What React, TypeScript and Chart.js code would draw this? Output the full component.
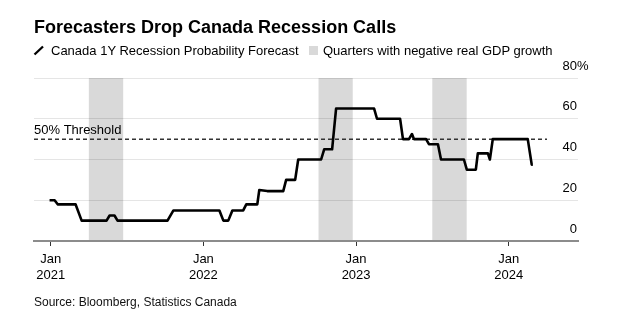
import React, { useEffect, useRef } from 'react';
import { Chart, registerables } from 'chart.js';

Chart.register(...registerables);

const TITLE = 'Forecasters Drop Canada Recession Calls';
const SERIES_LABEL = 'Canada 1Y Recession Probability Forecast';
const BAND_LABEL = 'Quarters with negative real GDP growth';
const SOURCE = 'Source: Bloomberg, Statistics Canada';

// Forecast series: decimal years and percent probability
const forecastDates = [
  2020.993, 2021.026, 2021.046, 2021.163, 2021.203, 2021.366, 2021.386, 2021.418, 2021.438,
  2021.765, 2021.804, 2022.105, 2022.131, 2022.163, 2022.19, 2022.261, 2022.281, 2022.353,
  2022.366, 2022.418, 2022.523, 2022.542, 2022.601, 2022.621, 2022.771, 2022.791, 2022.843,
  2022.869, 2023.118, 2023.137, 2023.288, 2023.307, 2023.346, 2023.366, 2023.379, 2023.458,
  2023.477, 2023.536, 2023.556, 2023.706, 2023.725, 2023.784, 2023.797, 2023.863, 2023.876,
  2023.895, 2024.124, 2024.15, 2024.157,
];
const forecastValues = [
  20, 20, 18, 18, 10, 10, 12.5, 12.5, 10,
  10, 15, 15, 10, 10, 15, 15, 18, 18,
  25, 24.5, 24.5, 30, 30, 40, 40, 45, 45,
  65, 65, 60, 60, 50, 50, 52.5, 50, 50,
  47.5, 47.5, 40, 40, 35, 35, 43, 43, 40,
  50, 50, 37.5, 37.5,
];

// Quarters with negative real GDP growth (shaded)
const recessionStarts = [2021.25, 2022.754, 2023.499];
const recessionEnds = [2021.475, 2022.978, 2023.724];

const yearTicks = [2021, 2022, 2023, 2024];
const tickMonth = 'Jan';
const yTicks = [0, 20, 40, 60, 80];
const thresholdValue = 50;
const thresholdLabel = '50% Threshold';
const thresholdEnd = 2024.25;
const xMin = 2020.891;
const xMax = 2024.453;

const FONT = '"Liberation Sans", Arial, sans-serif';

const overlayPlugin = {
  id: 'overlay',
  beforeDraw(chart: any) {
    const { ctx, chartArea, scales } = chart;
    const x = scales.x;
    ctx.save();
    ctx.fillStyle = '#d9d9d9';
    recessionStarts.forEach((s, i) => {
      const x0 = x.getPixelForValue(s);
      const x1 = x.getPixelForValue(recessionEnds[i]);
      ctx.fillRect(x0, chartArea.top, x1 - x0, chartArea.bottom - chartArea.top);
    });
    ctx.restore();
  },
  beforeDatasetsDraw(chart: any) {
    const { ctx, chartArea, scales } = chart;
    const x = scales.x;
    const y = scales.y;
    const ty = y.getPixelForValue(thresholdValue);
    ctx.save();
    ctx.strokeStyle = '#333';
    ctx.lineWidth = 1.5;
    ctx.setLineDash([4, 3]);
    ctx.beginPath();
    ctx.moveTo(chartArea.left, ty);
    ctx.lineTo(x.getPixelForValue(thresholdEnd), ty);
    ctx.stroke();
    ctx.setLineDash([]);
    ctx.fillStyle = '#000';
    ctx.font = `13px ${FONT}`;
    ctx.textAlign = 'left';
    ctx.textBaseline = 'alphabetic';
    ctx.fillText(thresholdLabel, chartArea.left, ty - 5);
    ctx.restore();
  },
  afterDraw(chart: any) {
    const { ctx, chartArea, scales } = chart;
    const y = scales.y;
    ctx.save();
    ctx.fillStyle = '#000';
    ctx.font = `13px ${FONT}`;
    ctx.textBaseline = 'alphabetic';
    yTicks.forEach((v) => {
      const py = y.getPixelForValue(v) - 8.5;
      const rx = chartArea.right - 1;
      ctx.textAlign = 'right';
      ctx.fillText(String(v), rx, py);
      if (v === yTicks[yTicks.length - 1]) {
        ctx.textAlign = 'left';
        ctx.fillText('%', rx, py);
      }
    });
    ctx.restore();
  },
};

export default function App() {
  const canvasRef = useRef<HTMLCanvasElement | null>(null);

  useEffect(() => {
    const canvas = canvasRef.current;
    if (!canvas) return;
    const chart = new Chart(canvas, {
      type: 'line',
      data: {
        datasets: [
          {
            label: SERIES_LABEL,
            data: forecastDates.map((d, i) => ({ x: d, y: forecastValues[i] })),
            borderColor: '#000',
            borderWidth: 2.6,
            pointRadius: 0,
            tension: 0,
            fill: false,
            borderJoinStyle: 'round',
            borderCapStyle: 'butt',
          },
        ],
      },
      options: {
        responsive: false,
        animation: false,
        devicePixelRatio: 1,
        layout: { padding: { left: 34, right: 46, top: 78, bottom: 0 } },
        plugins: {
          legend: { display: false },
          tooltip: { enabled: false },
          title: { display: false },
        },
        scales: {
          x: {
            type: 'linear',
            position: 'bottom',
            min: xMin,
            max: xMax,
            afterFit: (s: any) => {
              s.height = 86;
            },
            afterBuildTicks: (s: any) => {
              s.ticks = yearTicks.map((v) => ({ value: v }));
            },
            ticks: {
              autoSkip: false,
              maxRotation: 0,
              padding: 5,
              color: '#000',
              font: { family: FONT, size: 13, lineHeight: 1.25 },
              callback: (v: any) => [tickMonth, String(v)],
            },
            grid: {
              drawOnChartArea: false,
              drawTicks: true,
              tickLength: 5,
              color: '#333',
              lineWidth: 1,
            },
            border: { display: true, color: '#8c8c8c', width: 2 },
          },
          y: {
            type: 'linear',
            position: 'right',
            min: 0,
            max: 80,
            afterFit: (s: any) => {
              s.width = 0;
            },
            afterBuildTicks: (s: any) => {
              s.ticks = yTicks.map((v) => ({ value: v }));
            },
            ticks: { display: false },
            grid: { color: 'rgba(0,0,0,0.1)', lineWidth: 1, drawTicks: false },
            border: { display: false },
          },
        },
      },
      plugins: [overlayPlugin],
    } as any);
    return () => chart.destroy();
  }, []);

  const textBase: React.CSSProperties = {
    position: 'absolute',
    fontFamily: FONT,
    color: '#000',
    whiteSpace: 'nowrap',
    margin: 0,
  };

  return (
    <div style={{ position: 'fixed', left: 0, top: 0, width: 624, height: 327, background: '#fff', overflow: 'hidden' }}>
      <canvas ref={canvasRef} width={624} height={327} style={{ position: 'absolute', left: 0, top: 0, width: 624, height: 327 }} />
      <div style={{ ...textBase, left: 34, top: 17.5, fontSize: 18, fontWeight: 'bold', lineHeight: '18px' }}>{TITLE}</div>
      <svg style={{ position: 'absolute', left: 33, top: 45 }} width={12} height={11}>
        <line x1={1.5} y1={9.5} x2={10} y2={1.5} stroke="#000" strokeWidth={2.3} />
      </svg>
      <div style={{ ...textBase, left: 51, top: 44, fontSize: 13, lineHeight: '13px' }}>{SERIES_LABEL}</div>
      <div style={{ position: 'absolute', left: 309, top: 46, width: 9, height: 9, background: '#d9d9d9' }} />
      <div style={{ ...textBase, left: 323, top: 44, fontSize: 13, lineHeight: '13px' }}>{BAND_LABEL}</div>
      <div style={{ ...textBase, left: 34, top: 296, fontSize: 12, lineHeight: '12px', color: '#111' }}>{SOURCE}</div>
    </div>
  );
}
